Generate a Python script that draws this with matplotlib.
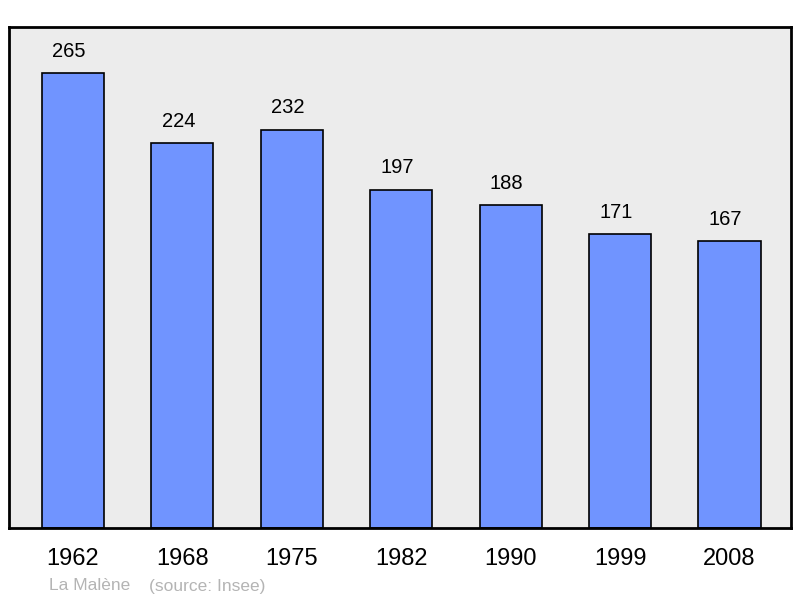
import matplotlib
matplotlib.use("Agg")
import matplotlib.pyplot as plt

years = ["1962", "1968", "1975", "1982", "1990", "1999", "2008"]
population = [265, 224, 232, 197, 188, 171, 167]

plt.rcParams['font.family'] = ['Liberation Sans', 'DejaVu Sans']

fig = plt.figure(figsize=(8, 5.98), dpi=100)
ax = fig.add_axes([9/800, 1 - 528/598, 782/800, 501/598])
ax.set_facecolor("#ececec")

x = range(len(years))
ax.bar(x, population, width=0.567, color="#7094ff", edgecolor="black", linewidth=1.2, zorder=2)

for i, v in zip(x, population):
    ax.annotate(str(v), (i, v), xytext=(-3, 9), textcoords="offset points",
                ha="center", va="bottom", fontsize=14.5)

ax.set_xlim(-0.585, 6.562)
ax.set_ylim(0, 291.8)
ax.set_xticks(list(x))
ax.set_xticklabels(years, fontsize=17)
ax.tick_params(axis="x", length=0, pad=14.5)
ax.set_yticks([])
for s in ax.spines.values():
    s.set_linewidth(2)

fig.text(49/800, 1 - 586/598, "La Malène", color="#b4b4b4", fontsize=12.5, va="center")
fig.text(149/800, 1 - 586/598, "(source: Insee)", color="#b4b4b4", fontsize=12.5, va="center")

fig.savefig("out.png", dpi=100)
